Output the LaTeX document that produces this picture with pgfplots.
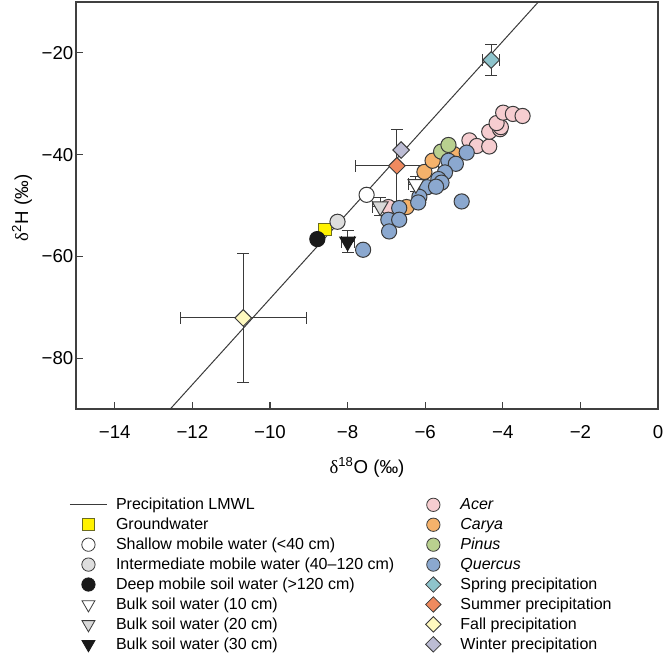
\documentclass[border=0pt]{standalone}
\usepackage{fontspec}
\setmainfont{Liberation Sans}
\newfontfamily\symf{Liberation Serif}
\usepackage{pgfplots}
\pgfplotsset{compat=1.18}
\definecolor{edgec}{HTML}{3A3A3A}
\definecolor{axc}{HTML}{404040}
\definecolor{acer}{HTML}{F6CDD0}
\definecolor{carya}{HTML}{F5B26B}
\definecolor{pinus}{HTML}{B9D08F}
\definecolor{quercus}{HTML}{8BA8CF}
\definecolor{spring}{HTML}{8EC4CC}
\definecolor{summer}{HTML}{EF8A5F}
\definecolor{fall}{HTML}{FFF9BF}
\definecolor{winter}{HTML}{BCBCD4}
\definecolor{gw}{HTML}{FFF200}
\definecolor{gwedge}{HTML}{6B6B20}
\definecolor{interm}{HTML}{DDDDDD}
\definecolor{bulkb}{HTML}{D8D8D8}
\definecolor{deep}{HTML}{1A1A1A}
\newcommand{\lw}[1]{\makebox[222pt][l]{#1}}
\begin{document}
\begin{tikzpicture}
\begin{axis}[
  name=ax, at={(0,0)}, anchor=south west,
  scale only axis, width=436.5pt, height=305.25pt,
  xmin=-15, xmax=0, ymin=-90, ymax=-10,
  axis line style={line width=0.9pt, color=axc},
  xtick={-14,-12,...,0}, xticklabels={−14,−12,−10,−8,−6,−4,−2,0},
  ytick={-80,-60,-40,-20}, yticklabels={−80,−60,−40,−20},
  tick align=inside, tick pos=left,
  major tick length=5pt,
  tick style={line width=0.9pt, color=axc},
  ticklabel style={font=\fontsize{14}{16}\selectfont},
  xticklabel style={yshift=-9pt},
  yticklabel style={xshift=1.5pt},
  label style={font=\fontsize{14}{16}\selectfont},
  xlabel={{\symf δ}\textsuperscript{18}O (‰)},
  ylabel={{\symf δ}\textsuperscript{2}H (‰)},
  xlabel style={at={(axis description cs:0.5,-0.1425)}, anchor=center},
  ylabel style={at={(axis description cs:-0.0928,0.494)}, anchor=center},
  legend columns=2,
  legend cell align=left,
  legend style={at={(axis description cs:-0.012,-0.2115)}, anchor=north west,
    draw=none, fill=none, inner xsep=0pt, inner ysep=0pt,
    font=\fontsize{12}{14}\selectfont, row sep=0.75pt,
    /tikz/every odd column/.append style={column sep=4.3pt}},
  legend image code/.code={\draw[#1, only marks] plot coordinates {(14pt,0pt)}; \path[draw=none] (0pt,0pt) -- (28pt,0pt);},
  error bars/error mark options={rotate=90, mark size=4.5pt, line width=0.75pt, draw=edgec},
  error bars/error bar style={line width=0.75pt, draw=edgec},
]
% ---------- legend entries (row-wise: left, right) ----------
\addlegendimage{legend image code/.code={\draw[line width=0.75pt, edgec] (0pt,0pt) -- (28pt,0pt);}}
\addlegendentry{\lw{Precipitation LMWL}}
\addlegendimage{mark=*, mark size=5pt, mark options={draw=edgec, fill=acer, line width=0.6pt}}
\addlegendentry{\textit{Acer}}
\addlegendimage{mark=square*, mark size=4.5pt, mark options={draw=gwedge, fill=gw, line width=0.6pt}}
\addlegendentry{\lw{Groundwater}}
\addlegendimage{mark=*, mark size=5pt, mark options={draw=edgec, fill=carya, line width=0.6pt}}
\addlegendentry{\textit{Carya}}
\addlegendimage{mark=*, mark size=5pt, mark options={draw=edgec, fill=white, line width=0.6pt}}
\addlegendentry{\lw{Shallow mobile water (<40 cm)}}
\addlegendimage{mark=*, mark size=5pt, mark options={draw=edgec, fill=pinus, line width=0.6pt}}
\addlegendentry{\textit{Pinus}}
\addlegendimage{mark=*, mark size=5pt, mark options={draw=edgec, fill=interm, line width=0.6pt}}
\addlegendentry{\lw{Intermediate mobile water (40–120 cm)}}
\addlegendimage{mark=*, mark size=5pt, mark options={draw=edgec, fill=quercus, line width=0.6pt}}
\addlegendentry{\textit{Quercus}}
\addlegendimage{mark=*, mark size=5pt, mark options={draw=deep, fill=deep, line width=0.6pt}}
\addlegendentry{\lw{Deep mobile soil water (>120 cm)}}
\addlegendimage{mark=square*, mark size=4.1pt, mark options={rotate=45, draw=edgec, fill=spring, line width=0.6pt}}
\addlegendentry{Spring precipitation}
\addlegendimage{mark=triangle*, mark size=5.6pt, mark options={rotate=180, draw=edgec, fill=white, line width=0.6pt}}
\addlegendentry{\lw{Bulk soil water (10 cm)}}
\addlegendimage{mark=square*, mark size=4.1pt, mark options={rotate=45, draw=edgec, fill=summer, line width=0.6pt}}
\addlegendentry{Summer precipitation}
\addlegendimage{mark=triangle*, mark size=5.6pt, mark options={rotate=180, draw=edgec, fill=bulkb, line width=0.6pt}}
\addlegendentry{\lw{Bulk soil water (20 cm)}}
\addlegendimage{mark=square*, mark size=4.1pt, mark options={rotate=45, draw=edgec, fill=fall, line width=0.6pt}}
\addlegendentry{Fall precipitation}
\addlegendimage{mark=triangle*, mark size=5.6pt, mark options={rotate=180, draw=deep, fill=deep, line width=0.6pt}}
\addlegendentry{\lw{Bulk soil water (30 cm)}}
\addlegendimage{mark=square*, mark size=4.1pt, mark options={rotate=45, draw=edgec, fill=winter, line width=0.6pt}}
\addlegendentry{Winter precipitation}
% ---------- data ----------
% Acer
\addplot[only marks, mark=*, mark size=5.7pt, mark options={draw=edgec, fill=acer, line width=0.75pt}, forget plot] coordinates {
(-6.95,-50.3) (-4.86,-37.2) (-4.67,-38.3) (-4.35,-38.4) (-4.35,-35.5) (-4.07,-35.0)
(-4.05,-34.6) (-4.16,-33.8) (-3.99,-31.75) (-3.74,-32.0) (-3.49,-32.4)};
% Carya
\addplot[only marks, mark=*, mark size=5.7pt, mark options={draw=edgec, fill=carya, line width=0.75pt}, forget plot] coordinates {
(-6.48,-50.3) (-6.02,-43.4) (-5.81,-41.2) (-5.26,-39.9)};
% Pinus
\addplot[only marks, mark=*, mark size=5.7pt, mark options={draw=edgec, fill=pinus, line width=0.75pt}, forget plot] coordinates {
(-5.59,-39.4) (-5.40,-38.1)};
% Quercus
\addplot[only marks, mark=*, mark size=5.7pt, mark options={draw=edgec, fill=quercus, line width=0.75pt}, forget plot] coordinates {
(-4.93,-39.6) (-5.40,-41.2) (-5.21,-41.8) (-5.49,-43.5) (-5.66,-44.8) (-5.58,-45.5)
(-5.95,-46.4) (-5.72,-46.3) (-6.15,-48.3) (-6.18,-49.4) (-5.06,-49.2) (-6.67,-50.5)
(-6.95,-52.8) (-6.67,-52.8) (-6.93,-55.1) (-7.60,-58.7)};
% Groundwater
\addplot[only marks, mark=square*, mark size=4.7pt, mark options={draw=gwedge, fill=gw, line width=0.75pt}, forget plot] coordinates {(-8.58,-54.7)};
% Deep mobile soil water
\addplot[only marks, mark=*, mark size=5.7pt, mark options={draw=deep, fill=deep, line width=0.75pt}, forget plot] coordinates {(-8.78,-56.6)};
% Intermediate mobile water
\addplot[only marks, mark=*, mark size=5.7pt, mark options={draw=edgec, fill=interm, line width=0.75pt}, forget plot] coordinates {(-8.26,-53.2)};
% Shallow mobile water
\addplot[only marks, mark=*, mark size=5.7pt, mark options={draw=edgec, fill=white, line width=0.75pt}, forget plot] coordinates {(-7.51,-47.9)};
% Bulk soil water 10 cm
\addplot[only marks, mark=triangle*, mark size=6.8pt, mark options={rotate=180, draw=edgec, fill=white, line width=0.75pt}, forget plot,
  error bars/.cd, x dir=both, x explicit, y dir=both, y explicit] coordinates {(-6.24,-45.8) +- (0.2,1.5)};
% Bulk soil water 20 cm
\addplot[only marks, mark=triangle*, mark size=6.8pt, mark options={rotate=180, draw=edgec, fill=bulkb, line width=0.75pt}, forget plot,
  error bars/.cd, x dir=both, x explicit, y dir=both, y explicit] coordinates {(-7.16,-50.2) +- (0.2,1.7)};
% Bulk soil water 30 cm
\addplot[only marks, mark=triangle*, mark size=6.8pt, mark options={rotate=180, draw=deep, fill=deep, line width=0.75pt}, forget plot,
  error bars/.cd, x dir=both, x explicit, y dir=both, y explicit] coordinates {(-8.0,-57.1) +- (0.17,2.1)};
% Spring precipitation
\addplot[only marks, mark=square*, mark size=4.4pt, mark options={rotate=45, draw=edgec, fill=spring, line width=0.75pt}, forget plot,
  error bars/.cd, x dir=both, x explicit, y dir=both, y explicit] coordinates {(-4.30,-21.4) +- (0.22,3.0)};
% Winter precipitation
\addplot[only marks, mark=square*, mark size=4.4pt, mark options={rotate=45, draw=edgec, fill=winter, line width=0.75pt}, forget plot] coordinates {(-6.62,-39.1)};
% Summer precipitation
\addplot[only marks, mark=square*, mark size=4.4pt, mark options={rotate=45, draw=edgec, fill=summer, line width=0.75pt}, forget plot,
  error bars/.cd, x dir=both, x explicit, y dir=both, y explicit] coordinates {(-6.73,-42.2) +- (1.07,7.1)};
% Fall precipitation
\addplot[only marks, mark=square*, mark size=4.4pt, mark options={rotate=45, draw=edgec, fill=fall, line width=0.75pt}, forget plot,
  error bars/.cd, x dir=both, x explicit, y dir=both, y explicit] coordinates {(-10.69,-72.1) +- (1.62,12.7)};
% Precipitation LMWL
\addplot[line width=0.75pt, edgec, forget plot] coordinates {(-12.57,-90) (-3.085,-10)};
\end{axis}
\pgfresetboundingbox
\useasboundingbox (-57pt,-183.75pt) rectangle (441pt,306.75pt);
\end{tikzpicture}
\end{document}
